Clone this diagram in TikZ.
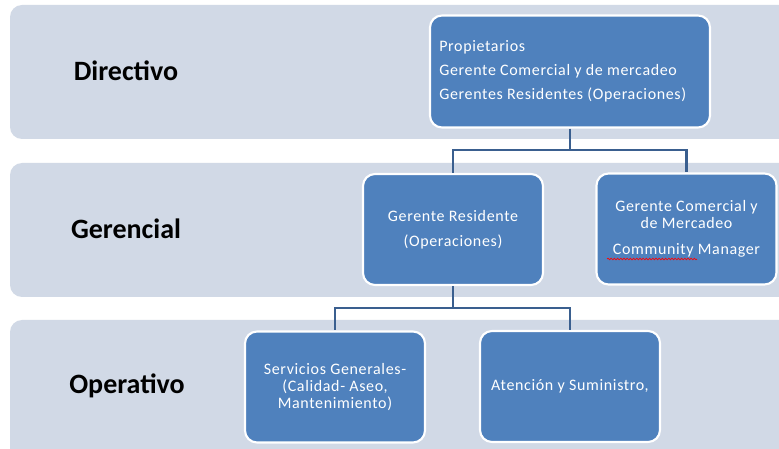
\documentclass[tikz,border=0pt]{standalone}
\usepackage{fontspec}
\setmainfont{Carlito}
\newfontfamily\boxfont[LetterSpace=4]{Carlito}
\usetikzlibrary{decorations.pathmorphing,calc}
\definecolor{bandc}{HTML}{D1D9E6}
\definecolor{boxc}{HTML}{4F81BD}
\definecolor{linec}{HTML}{3A5F8F}
\begin{document}
\begin{tikzpicture}[x=0.75pt,y=-0.75pt,
  band/.style={fill=bandc,draw=none,rounded corners=9pt},
  lvl/.style={font=\fontsize{21}{24}\selectfont\bfseries,text=black},
  obox/.style={fill=boxc,draw=white,line width=1.6pt,rounded corners=9pt,
    minimum width=135pt,minimum height=83.25pt,text=white,align=center,
    font=\boxfont\fontsize{12}{12.75}\selectfont,inner sep=2pt},
  conn/.style={draw=linec,line width=1.8pt},
  spell/.style={draw=red,line width=0.5pt,decorate,decoration={snake,amplitude=0.6pt,segment length=2.4pt}}]
\useasboundingbox (0,0) rectangle (779,449);
\fill[white] (0,0) rectangle (779,449);
% bands
\path[band] (10,5) rectangle (800,139);
\path[band] (10,163) rectangle (800,297);
\path[band] (10,320) rectangle (800,470);
% level labels
\node[lvl] (ldir) at (126,71) {Directivo};
\node[lvl] (lger) at (126,229) {Gerencial};
\node[lvl] (lope) at (127,386) {Operativo};
% boxes
\node[obox,minimum width=210pt,minimum height=84pt,text width=196pt,inner xsep=6.75pt,align=flush left,
  font=\boxfont\fontsize{12}{18}\selectfont] (top) at (570,71.5)
  {Propietarios\\Gerente Comercial y de mercadeo\\Gerentes Residentes (Operaciones)};
\node[obox,font=\boxfont\fontsize{12}{18.75}\selectfont] (gr) at (453,229.5)
  {Gerente Residente\\(Operaciones)};
\node[obox] (gc) at (686.5,229)
  {Gerente Comercial y\\de Mercadeo\\[6.5pt]Community Manager};
\node[obox] (sg) at (335,387)
  {Servicios Generales-\\(Calidad- Aseo,\\Mantenimiento)};
\node[obox] (at) at (570,386.5)
  {Atención y Suministro,};
% connectors
\coordinate (j1) at (570,150);
\coordinate (j2) at (453,308);
\draw[conn] (top.south) -- (j1);
\draw[conn] (j1) -| (gr.north);
\draw[conn] (j1) -| (gc.north);
\draw[conn] (gr.south) -- (j2);
\draw[conn] (j2) -| (sg.north);
\draw[conn] (j2) -| (at.north);
% spell-check underline
\coordinate (u1) at (607,259);
\coordinate (u2) at (697,259);
\draw[spell] (u1) -- (u2);
\end{tikzpicture}
\end{document}
